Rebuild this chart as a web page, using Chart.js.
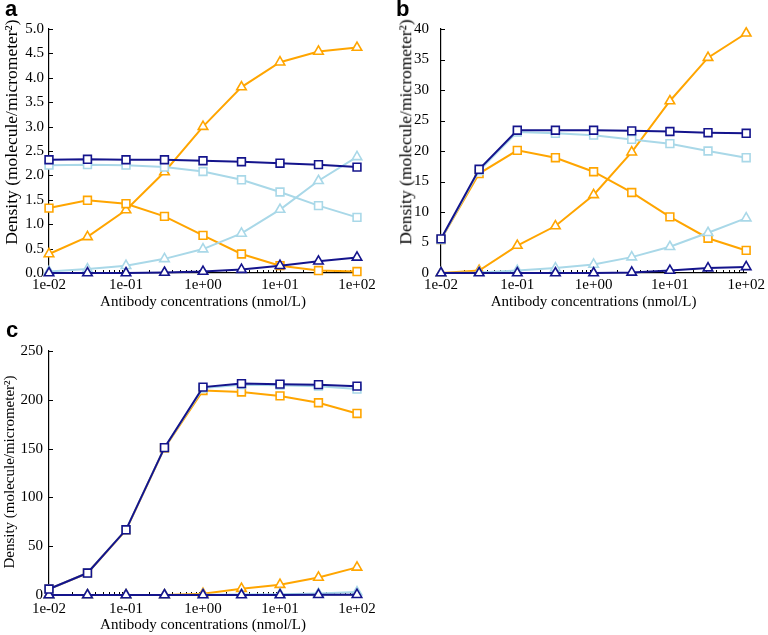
<!DOCTYPE html>
<html>
<head>
<meta charset="utf-8">
<script src="https://cdn.jsdelivr.net/npm/chart.js@4.4.1/dist/chart.umd.min.js"></script>
<style>
  html, body { margin: 0; padding: 0; background: #fff; }
  body { width: 768px; height: 635px; position: relative; overflow: hidden; }
  .panel { position: absolute; }
  .letter { position: absolute; font: bold 22px "Liberation Sans", Arial, sans-serif; line-height: 22px; color: #000; }
  .ytitle { position: absolute; white-space: nowrap; color: #000; font-family: "Liberation Serif", "Times New Roman", serif;
            line-height: 1; transform: translate(-50%, -50%) rotate(-90deg); }
</style>
</head>
<body>
<div class="panel" style="left:0;top:0;width:384px;height:312px"><canvas id="chartA"></canvas></div>
<div class="panel" style="left:384px;top:0;width:384px;height:312px"><canvas id="chartB"></canvas></div>
<div class="panel" style="left:0;top:300px;width:384px;height:335px"><canvas id="chartC"></canvas></div>
<div class="letter" style="left:5px;top:-2px">a</div>
<div class="letter" style="left:396px;top:-2px">b</div>
<div class="letter" style="left:6px;top:319px">c</div>
<div class="ytitle" style="left:12px;top:132px;font-size:17.5px">Density (molecule/micrometer²)</div>
<div class="ytitle" style="left:406px;top:132px;font-size:17.5px">Density (molecule/micrometer²)</div>
<div class="ytitle" style="left:9px;top:472px;font-size:15px">Density (molecule/micrometer²)</div>
<script>
// concentrations (nmol/L), half-decade steps
const conc = [0.01, 0.0316, 0.1, 0.316, 1, 3.16, 10, 31.6, 100];
const xTicks = [0.01, 0.1, 1, 10, 100];
const xTickLabels = ['1e-02', '1e-01', '1e+00', '1e+01', '1e+02'];

// panel a
const aNavySq = [2.32, 2.33, 2.32, 2.32, 2.30, 2.28, 2.25, 2.22, 2.17];
const aNavyTri = [0, 0, 0, 0.01, 0.03, 0.07, 0.15, 0.24, 0.32];
const aLightSq = [2.21, 2.22, 2.21, 2.17, 2.08, 1.91, 1.66, 1.38, 1.14];
const aLightTri = [0.03, 0.08, 0.15, 0.29, 0.49, 0.81, 1.30, 1.89, 2.38];
const aOrangeSq = [1.33, 1.49, 1.42, 1.16, 0.77, 0.39, 0.15, 0.05, 0.03];
const aOrangeTri = [0.39, 0.74, 1.29, 2.07, 3.00, 3.81, 4.32, 4.54, 4.62];

// panel b
const bNavySq = [5.6, 17.0, 23.4, 23.4, 23.4, 23.3, 23.2, 23.0, 22.9];
const bNavyTri = [0, 0, 0, 0, 0, 0.1, 0.4, 0.8, 1.0];
const bLightSq = [5.5, 16.8, 23.1, 22.9, 22.6, 21.9, 21.2, 20.0, 18.9];
const bLightTri = [0, 0.1, 0.4, 0.8, 1.4, 2.6, 4.3, 6.6, 9.0];
const bOrangeSq = [5.5, 16.3, 20.1, 18.9, 16.6, 13.2, 9.2, 5.7, 3.7];
const bOrangeTri = [0, 0.4, 4.5, 7.7, 12.8, 19.8, 28.2, 35.3, 39.3];

// panel c
const cNavySq = [6.1, 22.5, 66.8, 151, 213, 216.6, 216, 215.5, 214];
const cNavyTri = [0, 0, 0, 0, 0, 0, 0, 0.2, 0.3];
const cLightSq = [6, 22.5, 66.8, 151, 212, 215.5, 215, 214, 211];
const cLightTri = [0, 0, 0, 0, 0.2, 0.5, 0.8, 1.5, 3];
const cOrangeSq = [6, 22.5, 66.5, 150.5, 209.5, 208, 204, 197, 186];
const cOrangeTri = [0, 0, 0, 0, 1.4, 6.5, 10.6, 18, 28.3];

const NAVY = '#14148c';
const LIGHT = '#a9d8e8';
const ORANGE = '#ffa500';
const serif = '"Liberation Serif", "Times New Roman", serif';

// short inward tick marks (y ticks + log minor ticks on x)
const innerTicks = {
    id: 'innerTicks',
    beforeDatasetsDraw(chart) {
        const { ctx, scales: { x, y } } = chart;
        ctx.save();
        ctx.strokeStyle = '#000';
        ctx.lineWidth = 1;
        ctx.beginPath();
        y.ticks.forEach(t => {
            const py = Math.round(y.getPixelForValue(t.value)) + 0.5;
            ctx.moveTo(x.left, py);
            ctx.lineTo(x.left + 4, py);
        });
        for (let e = -2; e < 2; e++) {
            for (let m = 1; m <= 9; m++) {
                const px = Math.round(x.getPixelForValue(m * Math.pow(10, e))) + 0.5;
                ctx.moveTo(px, y.bottom);
                ctx.lineTo(px, y.bottom - (m === 1 ? 4 : 3));
            }
        }
        ctx.stroke();
        ctx.restore();
    }
};

function series(values, color, style) {
    return {
        data: values.map((v, i) => ({ x: conc[i], y: v })),
        borderColor: color,
        backgroundColor: color,
        borderWidth: 2,
        pointStyle: style,
        pointRadius: 5.5,
        pointBorderWidth: 1.6,
        pointBorderColor: color,
        pointBackgroundColor: '#fff',
        clip: false
    };
}

function makePanel(id, p) {
    new Chart(document.getElementById(id), {
        type: 'line',
        data: {
            datasets: [
                series(p.navySq, NAVY, 'rect'),
                series(p.navyTri, NAVY, 'triangle'),
                series(p.lightSq, LIGHT, 'rect'),
                series(p.lightTri, LIGHT, 'triangle'),
                series(p.orangeSq, ORANGE, 'rect'),
                series(p.orangeTri, ORANGE, 'triangle')
            ]
        },
        options: {
            responsive: true, maintainAspectRatio: false, animation: false,
            events: [],
            layout: { padding: p.pad },
            plugins: { legend: { display: false }, tooltip: { enabled: false } },
            scales: {
                x: {
                    type: 'logarithmic', min: 0.01, max: 100,
                    afterBuildTicks: s => { s.ticks = xTicks.map(v => ({ value: v })); },
                    afterFit: s => { s.height = p.xHeight; },
                    grid: { display: true, drawOnChartArea: false, drawTicks: false },
                    border: { display: true, color: '#000', width: 1.2 },
                    ticks: {
                        autoSkip: false, maxRotation: 0, padding: p.xPad, color: '#000',
                        font: { family: serif, size: 15 },
                        callback: (v, i) => xTickLabels[i]
                    },
                    title: {
                        display: true, text: 'Antibody concentrations (nmol/L)', color: '#000',
                        font: { family: serif, size: 15 }, padding: { top: 0, bottom: 1 }
                    }
                },
                y: {
                    min: 0, max: p.yMax,
                    afterFit: s => { s.width = p.yWidth; },
                    grid: { display: true, drawOnChartArea: false, drawTicks: false },
                    border: { display: true, color: '#000', width: 1.2 },
                    ticks: {
                        stepSize: p.yStep, padding: p.yPad, color: '#000',
                        font: { family: serif, size: 15 },
                        callback: v => v.toFixed(p.yDec)
                    },
                    title: { display: false }
                }
            }
        },
        plugins: [innerTicks]
    });
}

makePanel('chartA', {
    navySq: aNavySq, navyTri: aNavyTri, lightSq: aLightSq, lightTri: aLightTri, orangeSq: aOrangeSq, orangeTri: aOrangeTri,
    pad: { left: 0, top: 29, right: 27, bottom: 0 }, xHeight: 39, yWidth: 49, xPad: 3,
    yMax: 5, yStep: 0.5, yDec: 1, yPad: 5
});
makePanel('chartB', {
    navySq: bNavySq, navyTri: bNavyTri, lightSq: bLightSq, lightTri: bLightTri, orangeSq: bOrangeSq, orangeTri: bOrangeTri,
    pad: { left: 10, top: 29, right: 19, bottom: 0 }, xHeight: 39, yWidth: 47, xPad: 3,
    yMax: 40, yStep: 5, yDec: 0, yPad: 12
});
makePanel('chartC', {
    navySq: cNavySq, navyTri: cNavyTri, lightSq: cLightSq, lightTri: cLightTri, orangeSq: cOrangeSq, orangeTri: cOrangeTri,
    pad: { left: 0, top: 51, right: 27, bottom: 0 }, xHeight: 40, yWidth: 49, xPad: 5,
    yMax: 250, yStep: 50, yDec: 0, yPad: 6
});
</script>
</body>
</html>
